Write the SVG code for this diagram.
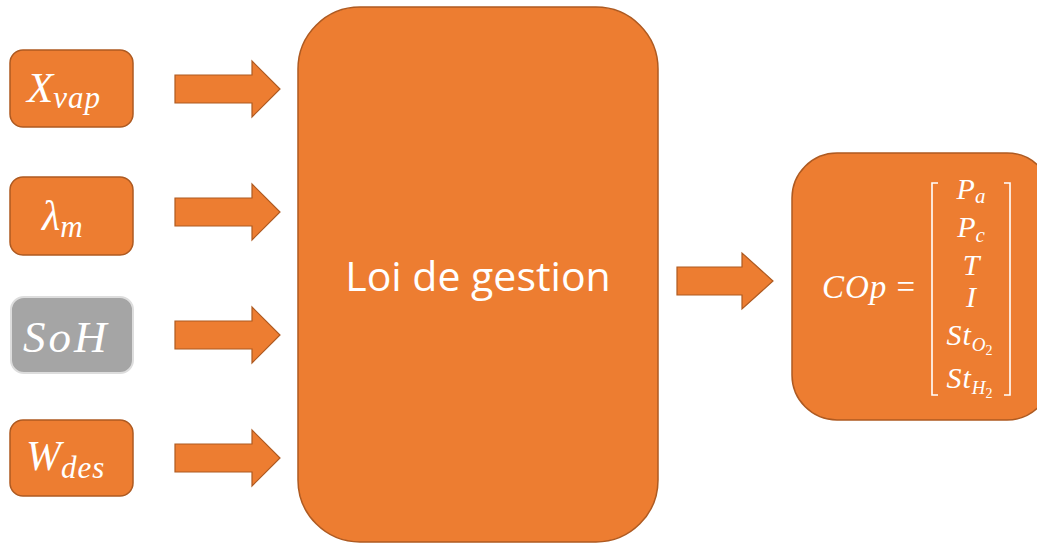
<svg xmlns="http://www.w3.org/2000/svg" width="1037" height="544" viewBox="0 0 1037 544">
<style>
.box{fill:#ED7D31;stroke:#AE5A21;stroke-width:1.5}
.gray{fill:#A5A5A5;stroke:#DDDDDD;stroke-width:2}
.arr{fill:#ED7D31;stroke:#AE5A21;stroke-width:1.2}
.m{font-family:"Liberation Serif",serif;font-style:italic;fill:#fff}
.t{font-family:"Open Sans","Liberation Sans",sans-serif;fill:#fff}
.br{fill:none;stroke:#fff;stroke-width:1.6}
</style>
<rect width="1037" height="544" fill="#fff"/>
<g id="xvap"><rect class="box" x="10" y="50" width="123" height="77" rx="13"/>
<text class="m" x="27" y="102" font-size="43">X<tspan font-size="31" dy="6" letter-spacing="1">vap</tspan></text></g>
<g id="lambda"><rect class="box" x="10" y="177" width="123" height="78" rx="13"/>
<text class="m" x="42" y="230" font-size="42">λ<tspan font-size="31" dy="7">m</tspan></text></g>
<g id="soh"><rect class="gray" x="11" y="297" width="122" height="76" rx="13"/>
<text class="m" x="23" y="352" font-size="45" letter-spacing="3">SoH</text></g>
<g id="wdes"><rect class="box" x="10" y="420" width="123" height="76" rx="13"/>
<text class="m" x="26" y="470" font-size="42">W<tspan font-size="31" dy="8" letter-spacing="1">des</tspan></text></g>
<g id="loi"><rect class="box" x="298" y="7" width="360" height="535" rx="62"/>
<text class="t" x="478" y="291" font-size="41" text-anchor="middle">Loi de gestion</text></g>
<g id="cop"><rect class="box" x="792" y="153" width="260" height="267" rx="45"/>
<text class="m" x="822" y="298" font-size="33" letter-spacing="1">COp <tspan font-style="normal">=</tspan></text>
<path class="br" d="M938,183 H932 V395 H938"/>
<path class="br" d="M1004,183 H1010 V395 H1004"/>
<g class="m" font-size="30" text-anchor="middle">
<text x="971" y="199">P<tspan font-size="21" dy="4">a</tspan></text>
<text x="971" y="237">P<tspan font-size="21" dy="5">c</tspan></text>
<text x="971" y="275">T</text>
<text x="971" y="307">I</text>
<text x="970" y="345" letter-spacing="1">St<tspan font-size="19" dy="6" letter-spacing="0">O</tspan><tspan font-size="14" font-style="normal" dy="4">2</tspan></text>
<text x="970" y="388" letter-spacing="1">St<tspan font-size="19" dy="6" letter-spacing="0">H</tspan><tspan font-size="14" font-style="normal" dy="4">2</tspan></text>
</g></g>
<g id="connectors">
<path class="arr" d="M175,75 H252 V61 L280,89 L252,117 V103 H175 Z"/>
<path class="arr" d="M175,198 H252 V184 L280,212 L252,240 V226 H175 Z"/>
<path class="arr" d="M175,321 H252 V307 L280,335 L252,363 V349 H175 Z"/>
<path class="arr" d="M175,444 H252 V430 L280,458 L252,486 V472 H175 Z"/>
<path class="arr" d="M677,267 H742 V253 L773,281 L742,309 V295 H677 Z"/>
</g>
</svg>
